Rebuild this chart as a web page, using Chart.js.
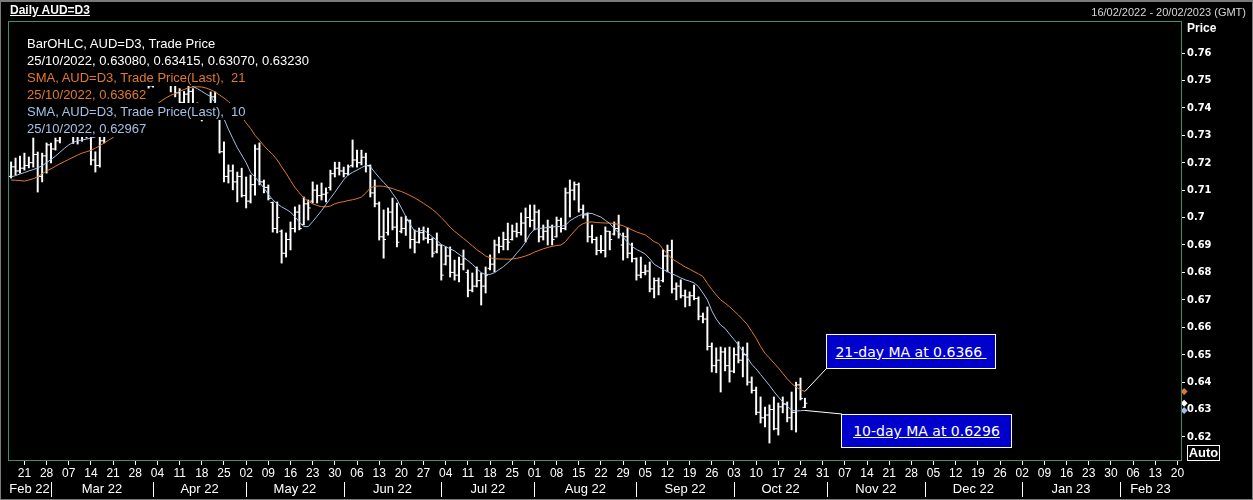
<!DOCTYPE html>
<html lang="en">
<head>
<meta charset="UTF-8">
<title>Daily AUD=D3</title>
<script src="https://cdn.jsdelivr.net/npm/chart.js"></script>
<style>
  html, body { margin: 0; padding: 0; background: #000; overflow: hidden; }
  #wrap { position: relative; width: 1253px; height: 500px; background: #000; }
  #c { position: absolute; left: 0; top: 0; }
  .txt { position: absolute; white-space: pre; font-family: 'Liberation Sans', Arial, sans-serif; }
  #title { left: 10px; top: 3px; font-size: 12px; line-height: 15px; font-weight: bold; color: #fff; text-decoration: underline; }
  #range { right: 7px; top: 5px; font-size: 11px; line-height: 15px; color: #d8d8d8; }
  #price { left: 1187px; top: 21px; font-size: 12px; line-height: 15px; font-weight: bold; color: #fff; }
  #auto { left: 1187px; top: 445px; width: 33px; height: 16px; box-sizing: border-box; border: 1px solid #fff;
          font-size: 13px; line-height: 14px; font-weight: bold; color: #fff; text-align: center; }
  #legend { position: absolute; left: 27px; top: 35px; font-family: 'Liberation Sans', Arial, sans-serif; font-size: 13px; }
  #legend div { width: max-content; height: 17px; line-height: 17px; background: #000; white-space: pre; }
  .note { position: absolute; box-sizing: border-box; border: 1px solid #fff; background: #0000cd; color: #fff;
          font-family: 'DejaVu Sans', Verdana, sans-serif; font-size: 14px; text-decoration: underline;
          display: flex; align-items: center; justify-content: center; white-space: pre; }
  #frame { position: absolute; left: 0; top: 0; width: 1253px; height: 500px; box-sizing: border-box;
           border: 1px solid #7a7a7a; border-top-width: 2px; pointer-events: none; }
</style>
</head>
<body>
<div id="wrap">
  <canvas id="c" width="1253" height="500"></canvas>
  <div id="title" class="txt">Daily AUD=D3</div>
  <div id="range" class="txt">16/02/2022 - 20/02/2023 (GMT)</div>
  <div id="price" class="txt">Price</div>
  <div id="auto" class="txt">Auto</div>
  <div id="legend"></div>
  <div id="note21" class="note">21-day MA at 0.6366 </div>
  <div id="note10" class="note">10-day MA at 0.6296</div>
  <div id="frame"></div>
</div>

<script>
// bars are placed by weekday index, 0 = Mon 21/02/2022; first bar is Wed 16/02/2022
const firstDay = -3;
const lastDate = '25/10/2022';

const open = [
  0.7150, 0.7185, 0.7170, 0.7180, 0.7190, 0.7200, 0.7230, 0.7150, 0.7225, 0.7265,
  0.7250, 0.7280, 0.7300, 0.7350, 0.7320, 0.7300, 0.7330, 0.7310, 0.7300, 0.7210,
  0.7190, 0.7280, 0.7370, 0.7390, 0.7410, 0.7450, 0.7470, 0.7500, 0.7495, 0.7490,
  0.7520, 0.7490, 0.7480, 0.7490, 0.7580, 0.7600, 0.7530, 0.7490, 0.7455, 0.7420,
  0.7450, 0.7460, 0.7410, 0.7400, 0.7370, 0.7400, 0.7440, 0.7385, 0.7240, 0.7150,
  0.7170, 0.7130, 0.7150, 0.7080, 0.7060, 0.7120, 0.7250, 0.7130, 0.7110, 0.7055,
  0.6960, 0.6950, 0.6870, 0.6920, 0.6960, 0.7020, 0.6975, 0.7050, 0.7060, 0.7100,
  0.7080, 0.7085, 0.7110, 0.7160, 0.7180, 0.7170, 0.7160, 0.7190, 0.7210, 0.7200,
  0.7220, 0.7190, 0.7090, 0.7050, 0.6930, 0.6945, 0.7020, 0.6965, 0.6950, 0.6960,
  0.6990, 0.6920, 0.6910, 0.6945, 0.6925, 0.6920, 0.6875, 0.6900, 0.6830, 0.6860,
  0.6800, 0.6790, 0.6830, 0.6800, 0.6735, 0.6750, 0.6770, 0.6750, 0.6815, 0.6830,
  0.6900, 0.6895, 0.6920, 0.6920, 0.6950, 0.6945, 0.6980, 0.7000, 0.6990, 0.7020,
  0.6930, 0.6950, 0.6965, 0.6930, 0.6990, 0.6960, 0.7090, 0.7100, 0.7120, 0.7030,
  0.7010, 0.6930, 0.6920, 0.6880, 0.6880, 0.6950, 0.6940, 0.6960, 0.6900, 0.6930,
  0.6870, 0.6850, 0.6790, 0.6800, 0.6805, 0.6740, 0.6770, 0.6770, 0.6860, 0.6880,
  0.6740, 0.6750, 0.6715, 0.6710, 0.6715, 0.6705, 0.6640, 0.6630, 0.6530, 0.6460,
  0.6480, 0.6510, 0.6460, 0.6440, 0.6500, 0.6480, 0.6500, 0.6400, 0.6370, 0.6290,
  0.6270, 0.6280, 0.6300, 0.6230, 0.6310, 0.6320, 0.6270, 0.6290, 0.6390, 0.63080
];
const high = [
  0.7203, 0.7217, 0.7224, 0.7235, 0.7221, 0.7290, 0.7239, 0.7235, 0.7272, 0.7272,
  0.7290, 0.7310, 0.7360, 0.7440, 0.7345, 0.7345, 0.7350, 0.7330, 0.7310, 0.7240,
  0.7300, 0.7380, 0.7400, 0.7420, 0.7460, 0.7480, 0.7510, 0.7510, 0.7505, 0.7540,
  0.7540, 0.7520, 0.7510, 0.7590, 0.7660, 0.7620, 0.7545, 0.7500, 0.7470, 0.7460,
  0.7480, 0.7470, 0.7418, 0.7410, 0.7415, 0.7458, 0.7458, 0.7390, 0.7276, 0.7192,
  0.7192, 0.7166, 0.7180, 0.7148, 0.7155, 0.7265, 0.7272, 0.7137, 0.7119, 0.7057,
  0.7057, 0.6955, 0.6944, 0.6984, 0.7039, 0.7046, 0.7075, 0.7064, 0.7130, 0.7119,
  0.7126, 0.7108, 0.7173, 0.7202, 0.7202, 0.7184, 0.7192, 0.7283, 0.7246, 0.7246,
  0.7235, 0.7192, 0.7137, 0.7057, 0.7028, 0.7035, 0.7071, 0.7053, 0.7002, 0.7005,
  0.6991, 0.6955, 0.6962, 0.6966, 0.6962, 0.6926, 0.6944, 0.6900, 0.6893, 0.6893,
  0.6845, 0.6856, 0.6882, 0.6809, 0.6798, 0.6820, 0.6798, 0.6820, 0.6864, 0.6918,
  0.6929, 0.6947, 0.6980, 0.6973, 0.6980, 0.7017, 0.7035, 0.7046, 0.7046, 0.7028,
  0.6973, 0.6991, 0.6973, 0.7002, 0.6998, 0.7108, 0.7137, 0.7130, 0.7126, 0.7046,
  0.7017, 0.6973, 0.6929, 0.6935, 0.6966, 0.6950, 0.6984, 0.7009, 0.6944, 0.6962,
  0.6907, 0.6853, 0.6856, 0.6827, 0.6838, 0.6780, 0.6780, 0.6882, 0.6900, 0.6918,
  0.6762, 0.6773, 0.6736, 0.6729, 0.6754, 0.6711, 0.6652, 0.6674, 0.6543, 0.6525,
  0.6528, 0.6525, 0.6528, 0.6525, 0.6547, 0.6528, 0.6543, 0.6419, 0.6382, 0.6346,
  0.6309, 0.6317, 0.6346, 0.6324, 0.6346, 0.6328, 0.6364, 0.6400, 0.6415, 0.63415
];
const low = [
  0.7144, 0.7155, 0.7162, 0.7173, 0.7181, 0.7184, 0.7093, 0.7130, 0.7162, 0.7199,
  0.7246, 0.7272, 0.7295, 0.7305, 0.7270, 0.7268, 0.7278, 0.7290, 0.7192, 0.7166,
  0.7184, 0.7272, 0.7335, 0.7370, 0.7390, 0.7430, 0.7450, 0.7480, 0.7460, 0.7480,
  0.7478, 0.7472, 0.7475, 0.7485, 0.7570, 0.7510, 0.7458, 0.7440, 0.7400, 0.7395,
  0.7410, 0.7405, 0.7390, 0.7352, 0.7360, 0.7385, 0.7375, 0.7235, 0.7130, 0.7126,
  0.7101, 0.7057, 0.7075, 0.7035, 0.7053, 0.7082, 0.7119, 0.7090, 0.7064, 0.6947,
  0.6944, 0.6834, 0.6856, 0.6882, 0.6947, 0.6955, 0.6973, 0.6991, 0.7053, 0.7053,
  0.7064, 0.7057, 0.7100, 0.7148, 0.7155, 0.7148, 0.7155, 0.7184, 0.7184, 0.7192,
  0.7166, 0.7075, 0.7039, 0.6918, 0.6852, 0.6936, 0.6955, 0.6893, 0.6944, 0.6935,
  0.6888, 0.6871, 0.6907, 0.6918, 0.6907, 0.6856, 0.6871, 0.6772, 0.6827, 0.6783,
  0.6772, 0.6765, 0.6809, 0.6711, 0.6729, 0.6747, 0.6681, 0.6725, 0.6809, 0.6802,
  0.6871, 0.6882, 0.6882, 0.6918, 0.6929, 0.6936, 0.6911, 0.6966, 0.6955, 0.6911,
  0.6918, 0.6900, 0.6900, 0.6929, 0.6947, 0.6955, 0.7002, 0.7064, 0.7020, 0.6998,
  0.6911, 0.6907, 0.6864, 0.6871, 0.6856, 0.6882, 0.6936, 0.6925, 0.6845, 0.6853,
  0.6838, 0.6772, 0.6780, 0.6791, 0.6729, 0.6707, 0.6718, 0.6765, 0.6802, 0.6725,
  0.6700, 0.6707, 0.6674, 0.6678, 0.6700, 0.6627, 0.6616, 0.6517, 0.6437, 0.6434,
  0.6364, 0.6441, 0.6400, 0.6434, 0.6470, 0.6419, 0.6389, 0.6360, 0.6281, 0.6251,
  0.6237, 0.6178, 0.6226, 0.6207, 0.6288, 0.6255, 0.6226, 0.6218, 0.6335, 0.63070
];
const close = [
  0.7185, 0.7170, 0.7180, 0.7190, 0.7200, 0.7230, 0.7150, 0.7225, 0.7265, 0.7250,
  0.7280, 0.7300, 0.7350, 0.7320, 0.7300, 0.7330, 0.7310, 0.7300, 0.7210, 0.7190,
  0.7280, 0.7370, 0.7390, 0.7410, 0.7450, 0.7470, 0.7500, 0.7495, 0.7490, 0.7520,
  0.7490, 0.7480, 0.7490, 0.7580, 0.7600, 0.7530, 0.7490, 0.7455, 0.7420, 0.7450,
  0.7460, 0.7410, 0.7400, 0.7370, 0.7400, 0.7440, 0.7390, 0.7240, 0.7150, 0.7170,
  0.7130, 0.7150, 0.7080, 0.7060, 0.7120, 0.7250, 0.7130, 0.7110, 0.7070, 0.6960,
  0.7000, 0.6870, 0.6920, 0.6960, 0.7020, 0.6960, 0.7050, 0.7035, 0.7100, 0.7080,
  0.7085, 0.7090, 0.7160, 0.7180, 0.7170, 0.7160, 0.7185, 0.7210, 0.7200, 0.7220,
  0.7190, 0.7090, 0.7050, 0.6930, 0.6920, 0.7020, 0.6965, 0.6910, 0.6960, 0.6990,
  0.6920, 0.6910, 0.6945, 0.6925, 0.6920, 0.6870, 0.6900, 0.6790, 0.6860, 0.6800,
  0.6790, 0.6830, 0.6850, 0.6735, 0.6750, 0.6770, 0.6750, 0.6790, 0.6830, 0.6900,
  0.6895, 0.6920, 0.6910, 0.6950, 0.6945, 0.6980, 0.7000, 0.6990, 0.7020, 0.6930,
  0.6950, 0.6965, 0.6920, 0.6990, 0.6960, 0.7090, 0.7100, 0.7120, 0.7030, 0.7010,
  0.6930, 0.6920, 0.6880, 0.6880, 0.6950, 0.6920, 0.6960, 0.6940, 0.6930, 0.6870,
  0.6850, 0.6790, 0.6800, 0.6805, 0.6740, 0.6770, 0.6750, 0.6860, 0.6880, 0.6740,
  0.6750, 0.6715, 0.6710, 0.6715, 0.6705, 0.6640, 0.6630, 0.6530, 0.6460, 0.6480,
  0.6510, 0.6460, 0.6440, 0.6500, 0.6480, 0.6500, 0.6400, 0.6370, 0.6290, 0.6270,
  0.6280, 0.6300, 0.6230, 0.6310, 0.6320, 0.6270, 0.6290, 0.6390, 0.6340, 0.63230
];
// moving averages
const sma21 = [
  0.7137, 0.7136, 0.7135, 0.7133, 0.7137, 0.7142, 0.7148, 0.7160, 0.7170, 0.7178,
  0.7187, 0.7196, 0.7204, 0.7212, 0.7220, 0.7228, 0.7235, 0.7240, 0.7245, 0.7253,
  0.7262, 0.7272, 0.7282, 0.7292, 0.7305, 0.7318, 0.7332, 0.7345, 0.7358, 0.7370,
  0.7382, 0.7393, 0.7404, 0.7415, 0.7427, 0.7437, 0.7446, 0.7452, 0.7460, 0.7467,
  0.7473, 0.7476, 0.7477, 0.7476, 0.7472, 0.7466, 0.7458, 0.7447, 0.7436, 0.7423,
  0.7407, 0.7390, 0.7368, 0.7345, 0.7325, 0.7300, 0.7282, 0.7262, 0.7245, 0.7230,
  0.7210, 0.7185, 0.7162, 0.7135, 0.7110, 0.7090, 0.7072, 0.7060, 0.7050, 0.7044,
  0.7040, 0.7039, 0.7042, 0.7050, 0.7055, 0.7058, 0.7062, 0.7065, 0.7069, 0.7075,
  0.7090, 0.7108, 0.7114, 0.7115, 0.7114, 0.7110, 0.7106, 0.7100, 0.7095, 0.7088,
  0.7080, 0.7072, 0.7062, 0.7052, 0.7041, 0.7030, 0.7016, 0.7000, 0.6983, 0.6965,
  0.6950, 0.6937, 0.6924, 0.6911, 0.6897, 0.6883, 0.6872, 0.6860, 0.6853, 0.6850,
  0.6849, 0.6849, 0.6848, 0.6849, 0.6851, 0.6855, 0.6860, 0.6866, 0.6874, 0.6880,
  0.6886, 0.6891, 0.6895, 0.6898, 0.6900, 0.6912, 0.6932, 0.6950, 0.6968, 0.6978,
  0.6983, 0.6984, 0.6982, 0.6981, 0.6980, 0.6980, 0.6978, 0.6975, 0.6970, 0.6963,
  0.6955, 0.6948, 0.6942, 0.6937, 0.6925, 0.6912, 0.6905, 0.6885, 0.6868, 0.6850,
  0.6840, 0.6830, 0.6820, 0.6812, 0.6803, 0.6795, 0.6785, 0.6760, 0.6738, 0.6718,
  0.6700, 0.6688, 0.6675, 0.6660, 0.6645, 0.6628, 0.6610, 0.6585, 0.6560, 0.6530,
  0.6505, 0.6488, 0.6470, 0.6452, 0.6432, 0.6412, 0.6395, 0.6382, 0.6372, 0.63662
];
const sma10 = [
  0.7148, 0.7153, 0.7159, 0.7164, 0.7170, 0.7175, 0.7181, 0.7189, 0.7200, 0.7212,
  0.7224, 0.7238, 0.7252, 0.7265, 0.7274, 0.7280, 0.7283, 0.7286, 0.7290, 0.7294,
  0.7305, 0.7320, 0.7338, 0.7358, 0.7378, 0.7398, 0.7418, 0.7436, 0.7452, 0.7465,
  0.7476, 0.7487, 0.7495, 0.7503, 0.7510, 0.7516, 0.7520, 0.7518, 0.7510, 0.7500,
  0.7488, 0.7478, 0.7470, 0.7460, 0.7450, 0.7441, 0.7420, 0.7390, 0.7360, 0.7322,
  0.7288, 0.7255, 0.7228, 0.7200, 0.7165, 0.7148, 0.7128, 0.7108, 0.7085, 0.7065,
  0.7050, 0.7039, 0.7030, 0.7020, 0.7003, 0.6984, 0.6967, 0.6967, 0.6985, 0.7005,
  0.7025, 0.7048, 0.7070, 0.7092, 0.7115, 0.7138, 0.7155, 0.7165, 0.7173, 0.7182,
  0.7190, 0.7186, 0.7165, 0.7146, 0.7128, 0.7112, 0.7088, 0.7066, 0.7035, 0.7004,
  0.6975, 0.6950, 0.6950, 0.6955, 0.6943, 0.6930, 0.6917, 0.6902, 0.6894, 0.6886,
  0.6878, 0.6866, 0.6855, 0.6843, 0.6830, 0.6814, 0.6799, 0.6792, 0.6793, 0.6799,
  0.6810, 0.6821, 0.6835, 0.6850, 0.6870, 0.6888, 0.6910, 0.6940, 0.6957, 0.6960,
  0.6962, 0.6964, 0.6966, 0.6967, 0.6968, 0.6972, 0.6988, 0.6998, 0.7007, 0.7012,
  0.7016, 0.7015, 0.7008, 0.7002, 0.6990, 0.6978, 0.6960, 0.6944, 0.6928, 0.6910,
  0.6895, 0.6884, 0.6876, 0.6867, 0.6850, 0.6830, 0.6820, 0.6811, 0.6803, 0.6795,
  0.6788, 0.6780, 0.6773, 0.6768, 0.6762, 0.6748, 0.6725, 0.6700, 0.6660, 0.6630,
  0.6608, 0.6596, 0.6575, 0.6556, 0.6535, 0.6512, 0.6490, 0.6465, 0.6448, 0.6428,
  0.6408, 0.6388, 0.6366, 0.6346, 0.6328, 0.6312, 0.6298, 0.6295, 0.6296, 0.62967
];

// axis labels
const weekLabels = ['21','28','07','14','21','28','04','11','18','25','02','09','16','23','30',
  '06','13','20','27','04','11','18','25','01','08','15','22','29','05','12','19','26',
  '03','10','17','24','31','07','14','21','28','05','12','19','26','02','09','16','23','30',
  '06','13','20'];
const monthLabels = ['Feb 22','Mar 22','Apr 22','May 22','Jun 22','Jul 22','Aug 22',
  'Sep 22','Oct 22','Nov 22','Dec 22','Jan 23','Feb 23'];
const monthStarts = [6, 29, 50, 72, 94, 115, 138, 160, 181, 203, 225, 247]; // first weekday of each month
const priceTicks = [0.62, 0.63, 0.64, 0.65, 0.66, 0.67, 0.68, 0.69, 0.70, 0.71, 0.72, 0.73, 0.74, 0.75, 0.76];

const xMin = -3.7, xMax = 260.8;
const yMin = 0.61161, yMax = 0.77167;

const ORANGE = '#e0792c';
const BLUE = '#a3c1e6';
const TEAL = '#3c8c78';
const NARROW = "'Liberation Sans Narrow', 'Liberation Sans', Arial, sans-serif";

const notes = {
  n21: { left: 826, top: 334, width: 170, height: 35 },
  n10: { left: 841, top: 414, width: 171, height: 34 }
};
const last = close.length - 1;

// legend text
const legendLines = [
  ['BarOHLC, AUD=D3, Trade Price', '#fff'],
  [lastDate + ', ' + [open[last], high[last], low[last], close[last]].map(v => v.toFixed(5)).join(', '), '#fff'],
  ['SMA, AUD=D3, Trade Price(Last),  21', ORANGE],
  [lastDate + ', ' + sma21[last].toFixed(5), ORANGE],
  ['SMA, AUD=D3, Trade Price(Last),  10', BLUE],
  [lastDate + ', ' + sma10[last].toFixed(5), BLUE]
];
const legendEl = document.getElementById('legend');
legendLines.forEach(([t, col]) => {
  const d = document.createElement('div');
  d.textContent = t;
  d.style.color = col;
  legendEl.appendChild(d);
});
for (const [id, b] of [['note21', notes.n21], ['note10', notes.n10]]) {
  const el = document.getElementById(id);
  el.style.left = b.left + 'px';
  el.style.top = b.top + 'px';
  el.style.width = b.width + 'px';
  el.style.height = b.height + 'px';
}

const weekTicks = weekLabels.map((_, i) => i * 5);
const bounds = [xMin, ...monthStarts, xMax];
const monthCenters = monthLabels.map((_, i) => (bounds[i] + bounds[i + 1]) / 2);
const tickOff = 0.27;

// frame, month separators and note leader lines
const extras = {
  id: 'extras',
  afterDatasetsDraw(chart) {
    const ctx = chart.ctx;
    const p21 = chart.getDatasetMeta(3).data[last];
    const p10 = chart.getDatasetMeta(4).data[last];
    ctx.save();
    ctx.strokeStyle = '#fff';
    ctx.lineWidth = 1;
    ctx.beginPath();
    ctx.moveTo(p21.x, p21.y);
    ctx.lineTo(notes.n21.left, notes.n21.top + notes.n21.height);
    ctx.moveTo(p10.x, p10.y);
    ctx.lineTo(notes.n10.left + 1, notes.n10.top);
    ctx.stroke();
    ctx.restore();
  },
  afterDraw(chart) {
    const ctx = chart.ctx;
    const a = chart.chartArea;
    const xs = chart.scales.x;
    ctx.save();
    ctx.strokeStyle = TEAL;
    ctx.lineWidth = 1;
    ctx.strokeRect(a.left + 0.5, a.top + 0.5, a.right - a.left, a.bottom - a.top);
    ctx.strokeStyle = '#fff';
    ctx.beginPath();
    monthStarts.forEach(d => {
      const x = Math.round(xs.getPixelForValue(d)) + 0.5;
      ctx.moveTo(x, 482);
      ctx.lineTo(x, 497);
    });
    ctx.stroke();
    ctx.restore();
  }
};

new Chart(document.getElementById('c'), {
  type: 'line',
  data: {
    datasets: [
      {
        type: 'bar',
        data: high.map((h, i) => ({ x: i + firstDay, y: [low[i], h] })),
        backgroundColor: '#fff',
        borderWidth: 0,
        barThickness: 1.3,
        grouped: false,
        order: 5
      },
      {
        data: open.map((v, i) => ({ x: i + firstDay - tickOff, y: v })),
        showLine: false,
        pointStyle: 'line',
        pointRadius: 1.2,
        pointHoverRadius: 0,
        pointBorderWidth: 1,
        pointBorderColor: '#fff',
        order: 4
      },
      {
        data: close.map((v, i) => ({ x: i + firstDay + tickOff, y: v })),
        showLine: false,
        pointStyle: 'line',
        pointRadius: 1.2,
        pointHoverRadius: 0,
        pointBorderWidth: 1,
        pointBorderColor: '#fff',
        order: 3
      },
      {
        data: sma21.map((v, i) => ({ x: i + firstDay, y: v })),
        borderColor: ORANGE,
        borderWidth: 1,
        pointRadius: 0,
        tension: 0,
        order: 2
      },
      {
        data: sma10.map((v, i) => ({ x: i + firstDay, y: v })),
        borderColor: BLUE,
        borderWidth: 1,
        pointRadius: 0,
        tension: 0,
        order: 1
      },
      {
        // last-value markers on the price axis
        type: 'bubble',
        data: [
          { x: xMax + 0.7, y: sma21[last], r: 3.5 },
          { x: xMax + 0.7, y: sma10[last], r: 3.5 },
          { x: xMax + 0.7, y: close[last], r: 3.5 }
        ],
        backgroundColor: [ORANGE, BLUE, '#fff'],
        borderWidth: 0,
        pointStyle: 'rectRot',
        clip: false,
        order: 0
      }
    ]
  },
  options: {
    responsive: false,
    animation: false,
    events: [],
    layout: { padding: { left: 8, top: 21, right: 0, bottom: 0 } },
    plugins: { legend: { display: false }, tooltip: { enabled: false } },
    scales: {
      x: {
        type: 'linear',
        axis: 'x',
        position: 'bottom',
        weight: 0,
        min: xMin,
        max: xMax,
        offset: false,
        afterBuildTicks: s => { s.ticks = weekTicks.map(v => ({ value: v })); },
        afterFit: s => { s.height = 20; },
        ticks: {
          autoSkip: false, maxRotation: 0, minRotation: 0,
          color: '#fff', padding: 1,
          font: { family: NARROW, size: 12 },
          callback: (v, i) => weekLabels[i]
        },
        grid: { drawOnChartArea: false, drawTicks: true, tickLength: 5, tickColor: '#fff', offset: false },
        border: { display: false }
      },
      xm: {
        type: 'linear',
        axis: 'x',
        position: 'bottom',
        weight: 1,
        min: xMin,
        max: xMax,
        offset: false,
        afterBuildTicks: s => { s.ticks = monthCenters.map(v => ({ value: v })); },
        afterFit: s => { s.height = 20; },
        ticks: {
          autoSkip: false, maxRotation: 0, minRotation: 0,
          color: '#fff', padding: 2,
          font: { family: NARROW, size: 13 },
          callback: (v, i) => monthLabels[i]
        },
        grid: { display: false, drawTicks: false, offset: false },
        border: { display: false }
      },
      y: {
        type: 'linear',
        position: 'right',
        min: yMin,
        max: yMax,
        afterBuildTicks: s => { s.ticks = priceTicks.map(v => ({ value: v })); },
        afterFit: s => { s.width = 72; },
        ticks: {
          color: '#fff', padding: 2,
          font: { family: "'DejaVu Sans Condensed', 'DejaVu Sans', sans-serif", size: 11, weight: 'bold' },
          callback: v => String(Number(v.toFixed(2)))
        },
        grid: { drawOnChartArea: false, drawTicks: true, tickLength: 4, tickColor: '#fff' },
        border: { display: false }
      }
    }
  },
  plugins: [extras]
});
</script>
</body>
</html>
